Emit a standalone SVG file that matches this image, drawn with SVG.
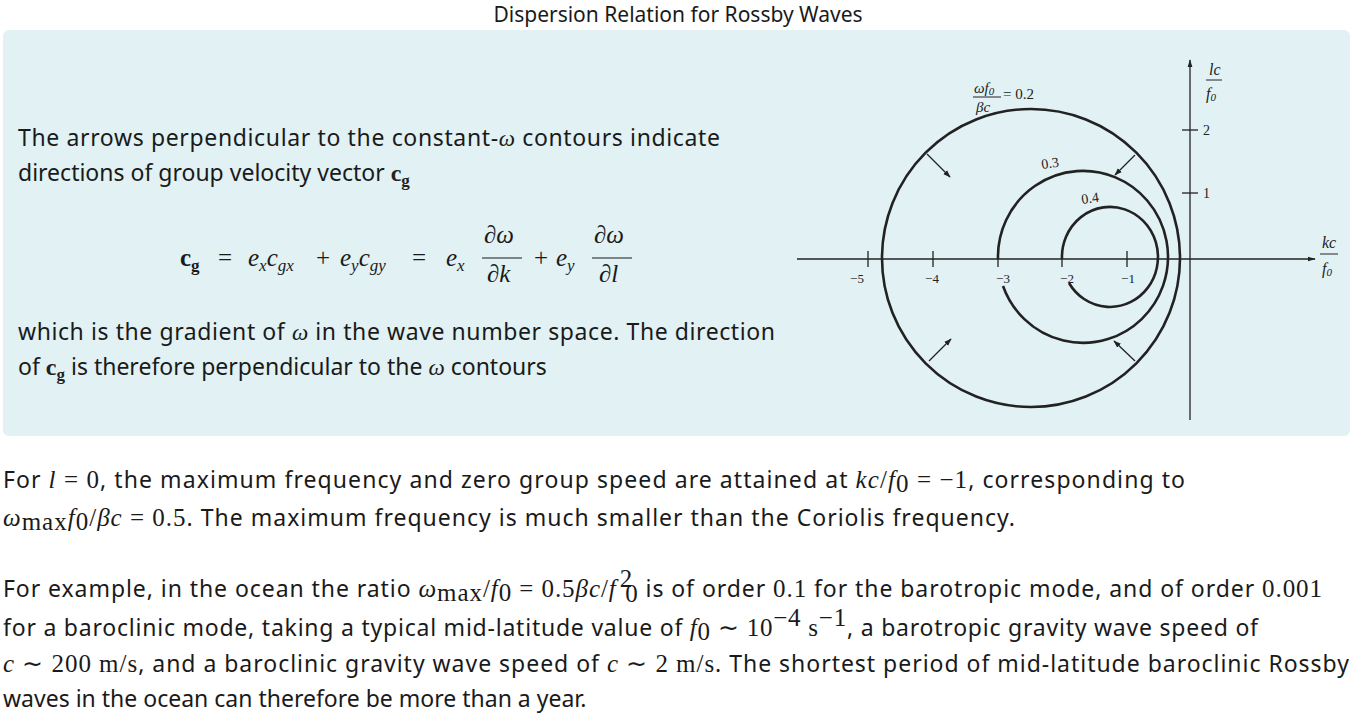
<svg xmlns="http://www.w3.org/2000/svg" width="1351" height="714" viewBox="0 0 1351 714">
<style>
.t{font-family:"Noto Sans","Open Sans",sans-serif;font-size:23px;fill:#1a1a1a}
.m{font-family:"Liberation Serif",serif;font-size:25px;font-style:italic;fill:#1a1a1a}
.r{font-style:normal}
.b{font-weight:bold;font-style:normal}
.s{font-size:17px}
.f{font-family:"Liberation Serif",serif;fill:#222}
.c{fill:none;stroke:#222;stroke-width:2.6}
.a{stroke:#222;stroke-width:1.3;fill:none}
</style>
<defs>
<marker id="ah" viewBox="0 0 10 10" refX="9" refY="5" markerWidth="6" markerHeight="6" orient="auto"><path d="M0,1.5L10,5L0,8.5z" fill="#222"/></marker>
<marker id="ax" viewBox="0 0 10 10" refX="9" refY="5" markerWidth="8" markerHeight="6" orient="auto"><path d="M0,2L10,5L0,8z" fill="#222"/></marker>
</defs>
<rect width="1351" height="714" fill="#fff"/>
<text class="t" x="678" y="22" text-anchor="middle" style="font-size:21px">Dispersion Relation for Rossby Waves</text>
<rect x="3" y="30" width="1347" height="406" rx="6" fill="#e1f1f4"/>
<g id="text-panel">
<text class="t" x="18" y="146" textLength="702" lengthAdjust="spacing">The arrows perpendicular to the constant-<tspan class="m" style="font-size:23px">ω</tspan> contours indicate</text>
<text class="t" x="18" y="181">directions of group velocity vector <tspan class="f" font-weight="bold" font-size="24">c</tspan><tspan class="f" font-weight="bold" font-size="17" dy="5">g</tspan></text>
<g class="m">
<text x="180" y="266"><tspan class="b">c</tspan><tspan class="b s" dy="5">g</tspan></text>
<text x="218" y="266" class="r">=</text>
<text x="248" y="266">e<tspan class="s" dy="5">x</tspan><tspan dy="-5">c</tspan><tspan class="s" dy="5">gx</tspan></text>
<text x="316" y="266" class="r">+</text>
<text x="340" y="266">e<tspan class="s" dy="5">y</tspan><tspan dy="-5">c</tspan><tspan class="s" dy="5">gy</tspan></text>
<text x="412" y="266" class="r">=</text>
<text x="446" y="266">e<tspan class="s" dy="5">x</tspan></text>
<text x="484" y="243">∂ω</text><line x1="482" y1="258" x2="522" y2="258" stroke="#1a1a1a" stroke-width="1.2"/><text x="487" y="282">∂k</text>
<text x="534" y="266" class="r">+</text><text x="556" y="266">e<tspan class="s" dy="5">y</tspan></text>
<text x="594" y="243">∂ω</text><line x1="592" y1="258" x2="632" y2="258" stroke="#1a1a1a" stroke-width="1.2"/><text x="599" y="282">∂l</text>
</g>
<text class="t" x="18" y="340" textLength="757" lengthAdjust="spacing">which is the gradient of <tspan class="m" style="font-size:23px">ω</tspan> in the wave number space. The direction</text>
<text class="t" x="18" y="375">of <tspan class="f" font-weight="bold" font-size="24">c</tspan><tspan class="f" font-weight="bold" font-size="17" dy="5">g</tspan><tspan dy="-5"> is therefore perpendicular to the </tspan><tspan class="m" style="font-size:23px">ω</tspan> contours</text>
</g>
<g id="connectors">
<line class="a" x1="797" y1="259" x2="1315" y2="259" stroke-width="2" marker-end="url(#ax)"/>
<line class="a" x1="1190" y1="420" x2="1190" y2="60" stroke-width="1.8" marker-end="url(#ax)"/>
<g class="a" stroke-width="2">
<line x1="868" y1="251" x2="868" y2="267"/><line x1="933" y1="251" x2="933" y2="267"/><line x1="998" y1="251" x2="998" y2="267"/><line x1="1062" y1="251" x2="1062" y2="267"/><line x1="1127" y1="251" x2="1127" y2="267"/>
<line x1="1182" y1="130" x2="1198" y2="130"/><line x1="1182" y1="193" x2="1198" y2="193"/>
</g>
<circle class="c" cx="1031" cy="258" r="149"/>
<path class="c" d="M998,259 A85,86 0 1 1 1003,286"/>
<path class="c" d="M1062,259 A48,50 0 1 1 1069,283"/>
<line class="a" x1="927" y1="154" x2="950" y2="177" marker-end="url(#ah)"/>
<line class="a" x1="1135" y1="155" x2="1115" y2="175" marker-end="url(#ah)"/>
<line class="a" x1="929" y1="361" x2="951" y2="339" marker-end="url(#ah)"/>
<line class="a" x1="1135" y1="361" x2="1114" y2="341" marker-end="url(#ah)"/>
</g>
<g id="labels" class="f" font-size="13">
<text x="857" y="283" text-anchor="middle">−5</text><text x="932" y="283" text-anchor="middle">−4</text><text x="1003" y="283" text-anchor="middle">−3</text><text x="1067" y="283" text-anchor="middle">−2</text><text x="1128" y="283" text-anchor="middle">−1</text>
<text x="1203" y="135" font-size="14">2</text><text x="1203" y="198" font-size="14">1</text>
<text x="1042" y="169" font-size="14" transform="rotate(-8 1042 169)">0.3</text>
<text x="1082" y="204" font-size="14" transform="rotate(-8 1082 204)">0.4</text>
<text x="974" y="93" font-size="15" font-style="italic">ωf<tspan font-size="11" dy="2">0</tspan></text>
<line x1="973" y1="97" x2="1001" y2="97" stroke="#222"/>
<text x="976" y="112" font-size="15" font-style="italic">βc</text>
<text x="1003" y="99" font-size="15">= 0.2</text>
<text x="1209" y="75" font-size="16" font-style="italic">lc</text><line x1="1206" y1="80" x2="1222" y2="80" stroke="#222"/><text x="1206" y="99" font-size="16" font-style="italic">f<tspan font-size="11" dy="2">0</tspan></text>
<text x="1322" y="248" font-size="16" font-style="italic">kc</text><line x1="1320" y1="254" x2="1338" y2="254" stroke="#222"/><text x="1322" y="274" font-size="16" font-style="italic">f<tspan font-size="11" dy="2">0</tspan></text>
</g>
<g id="body">
<text class="t" x="3" y="488" textLength="1182" lengthAdjust="spacing">For <tspan class="m">l</tspan><tspan class="m r"> = 0</tspan>, the maximum frequency and zero group speed are attained at <tspan class="m">kc</tspan><tspan class="m r">/</tspan><tspan class="m">f</tspan><tspan class="m r" font-size="17" dy="4">0</tspan><tspan class="m r" dy="-4"> = −1</tspan>, corresponding to</text>
<text class="t" x="3" y="526" textLength="1012" lengthAdjust="spacing"><tspan class="m">ω</tspan><tspan class="m r" font-size="17" dy="4">max</tspan><tspan class="m" dy="-4">f</tspan><tspan class="m r" font-size="17" dy="4">0</tspan><tspan class="m r" dy="-4">/</tspan><tspan class="m">βc</tspan><tspan class="m r"> = 0.5</tspan>. The maximum frequency is much smaller than the Coriolis frequency.</text>
<text class="t" x="3" y="597" textLength="1319" lengthAdjust="spacing">For example, in the ocean the ratio <tspan class="m">ω</tspan><tspan class="m r" font-size="17" dy="4">max</tspan><tspan class="m r" dy="-4">/</tspan><tspan class="m">f</tspan><tspan class="m r" font-size="17" dy="4">0</tspan><tspan class="m r" dy="-4"> = 0.5</tspan><tspan class="m">βc</tspan><tspan class="m r">/</tspan><tspan class="m">f</tspan><tspan class="m r" font-size="15" dx="3" dy="-10">2</tspan><tspan class="m r" font-size="15" dx="-8" dy="15">0</tspan><tspan dy="-5"> is of order </tspan><tspan class="m r">0.1</tspan> for the barotropic mode, and of order <tspan class="m r">0.001</tspan></text>
<text class="t" x="3" y="636" textLength="1255" lengthAdjust="spacing">for a baroclinic mode, taking a typical mid-latitude value of <tspan class="m">f</tspan><tspan class="m r" font-size="17" dy="4">0</tspan><tspan class="m r" dy="-4"> ∼ 10</tspan><tspan class="m r" font-size="17" dy="-10">−4</tspan><tspan class="m r" dy="10"> s</tspan><tspan class="m r" font-size="17" dy="-10">−1</tspan><tspan dy="10">, a barotropic gravity wave speed of</tspan></text>
<text class="t" x="3" y="672" textLength="1346" lengthAdjust="spacing"><tspan class="m">c</tspan><tspan class="m r"> ∼ 200 m/s</tspan>, and a baroclinic gravity wave speed of <tspan class="m">c</tspan><tspan class="m r"> ∼ 2 m/s</tspan>. The shortest period of mid-latitude baroclinic Rossby</text>
<text class="t" x="3" y="707">waves in the ocean can therefore be more than a year.</text>
</g>
</svg>
